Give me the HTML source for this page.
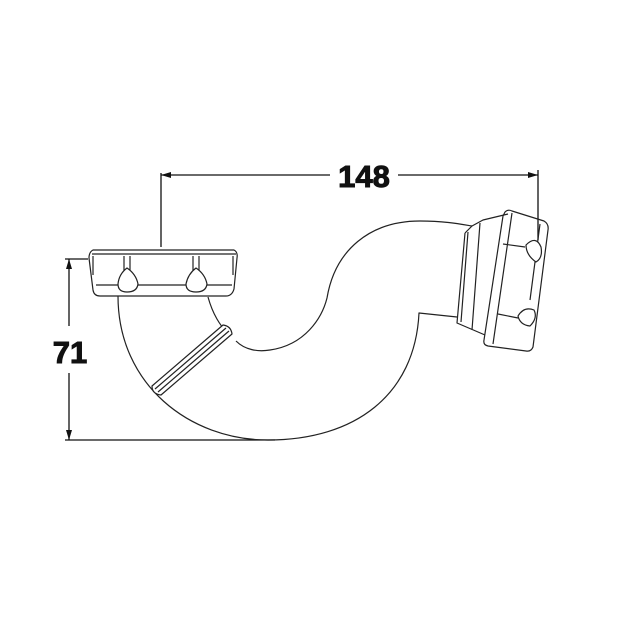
<!DOCTYPE html>
<html><head><meta charset="utf-8"><style>
html,body{margin:0;padding:0;background:#fff;width:620px;height:620px;overflow:hidden}
svg{display:block}
</style></head><body>
<svg width="620" height="620" viewBox="0 0 620 620" xmlns="http://www.w3.org/2000/svg">
<defs>
<marker id="ah" viewBox="0 0 10 6" refX="10" refY="3" markerWidth="10" markerHeight="6" orient="auto-start-reverse" markerUnits="userSpaceOnUse">
<path d="M0,0 L10,3 L0,6 z" fill="#111"/>
</marker>
</defs>
<g stroke="#111" stroke-width="1.3" fill="none">
<line x1="161" y1="173" x2="161" y2="247"/>
<line x1="538" y1="170" x2="538" y2="240"/>
<line x1="161" y1="175" x2="330" y2="175" marker-start="url(#ah)"/>
<line x1="398" y1="175" x2="538" y2="175" marker-end="url(#ah)"/>
<line x1="65" y1="259" x2="88" y2="259"/>
<line x1="65" y1="440" x2="275" y2="440"/>
<line x1="69" y1="259" x2="69" y2="326" marker-start="url(#ah)"/>
<line x1="69" y1="373" x2="69" y2="440" marker-end="url(#ah)"/>
</g>
<g stroke="#222" stroke-width="1.2" fill="none" stroke-linejoin="round">
<path d="M118,296 C118,385 190,440 268,440 C355,440 415,395 419,313 L457,317"/>
<path d="M208,297 C213,315 220,325 228,334"/>
<path d="M236,341 C245,350 258,352 270,350 C305,345 322,318 327,298 C335,250 370,221 420,221 C445,221 460,224 472,226"/>
<path d="M472,226 L483,220 L508,214 M465,233 L472,226 M465,233 L457,323 L485,335 M468,232 L461,322 M480,223 L472,330"/>
<path d="M505,212 Q508,209 512,211 L544,221 Q549,224 548,230 L533,347 Q531,352 526,351 L488,346 Q483,345 484,340 L503,216 Z"/>
<path d="M512,213 L493,344 M540,224 L530,300"/>
<path d="M503,244 L525,247 M498,314 L518,318"/>
<path d="M526,245 Q536,235 541,247 Q543,258 536,262 Q526,255 526,245 Z" fill="#fff"/>
<path d="M518,316 Q524,306 534,310 Q538,318 530,326 Q520,325 518,316 Z" fill="#fff"/>
<path d="M93,250 L234,250 Q238,252 237,258 L234,289 Q232,296 226,296 L100,296 Q94,296 93,290 L89,258 Q89,252 93,250 Z" fill="#fff"/>
<path d="M92,254 L236,254 M96,285 L232,285"/>
<path d="M93,256 L93,275 M233,256 L233,275"/>
<path d="M124,256 L124,275 M130,256 L130,275 M193,256 L193,275 M199,256 L199,275"/>
<path d="M127,268 Q119,274 118,284 Q118,292 127,292 Q137,292 138,284 Q136,274 127,268 Z" fill="#fff"/>
<path d="M196,268 Q188,274 186,284 Q186,292 196,292 Q206,292 207,284 Q205,274 196,268 Z" fill="#fff"/>
<path d="M152,386 L223,325 Q231,326 232,334 L161,395 Q152,394 152,386 Z" fill="#fff"/>
<path d="M155,389 L226,328 M158,392 L229,331"/>
</g>
<text x="364" y="187" text-anchor="middle" font-family="Liberation Sans, sans-serif" font-weight="bold" font-size="31" fill="#111" stroke="#111" stroke-width="1">148</text>
<text x="70" y="363" text-anchor="middle" font-family="Liberation Sans, sans-serif" font-weight="bold" font-size="31" fill="#111" stroke="#111" stroke-width="1">71</text>
</svg>
</body></html>
